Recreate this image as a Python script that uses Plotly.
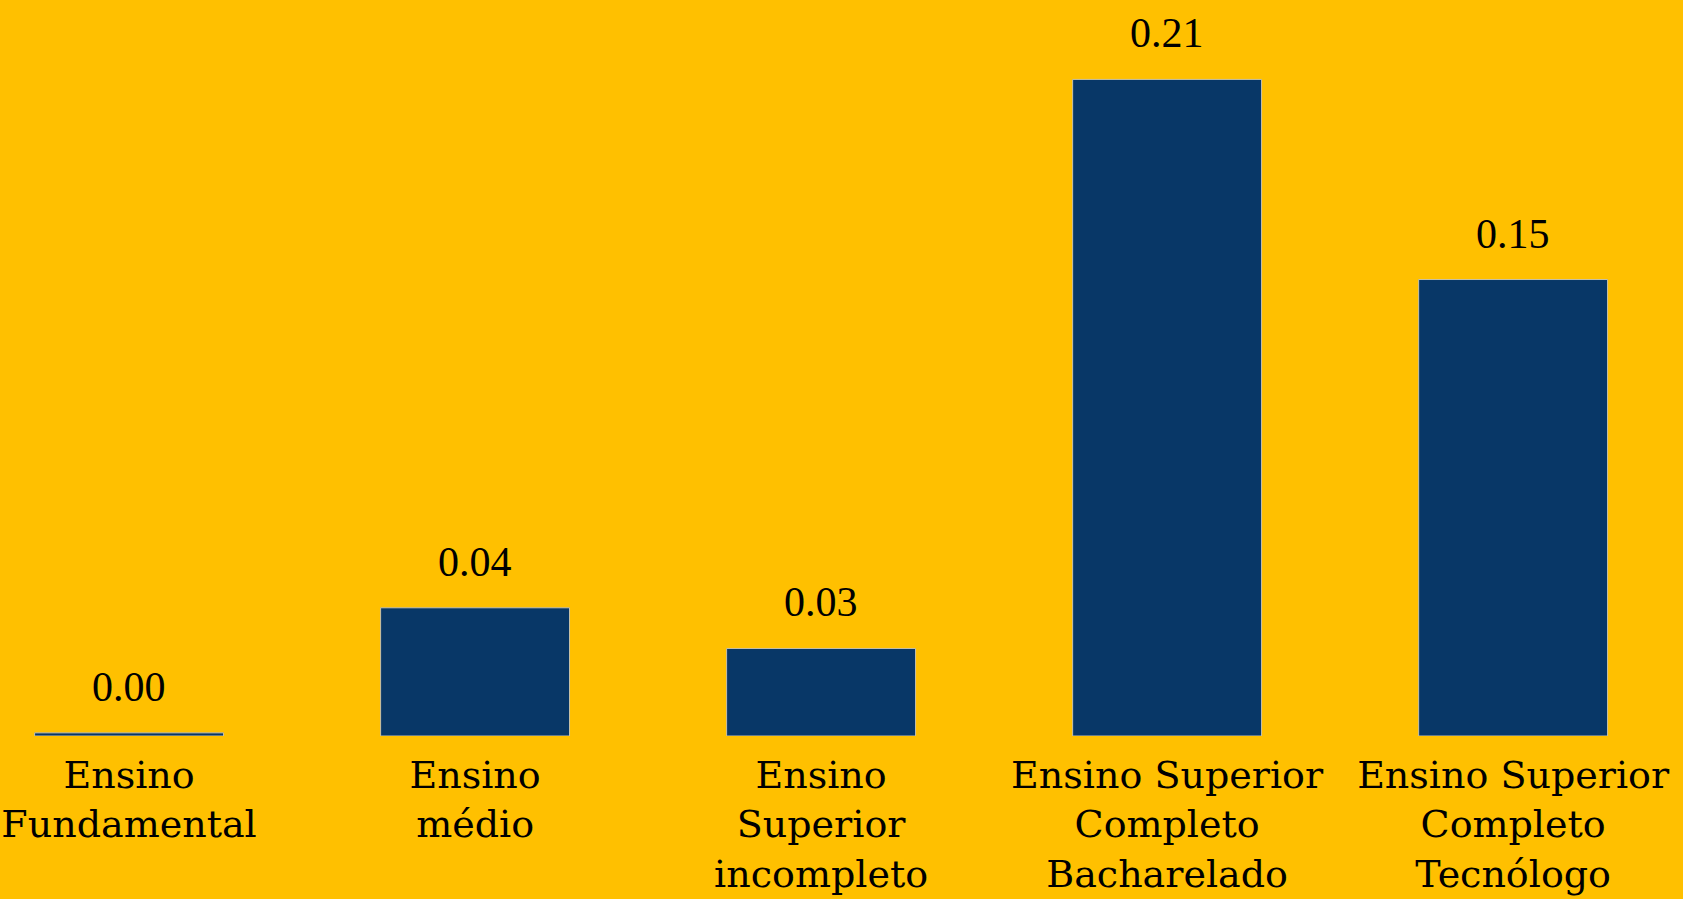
import plotly.graph_objects as go

# dados
categorias = [
    "Ensino<br>Fundamental",
    "Ensino<br>médio",
    "Ensino<br>Superior<br>incompleto",
    "Ensino Superior<br>Completo<br>Bacharelado",
    "Ensino Superior<br>Completo<br>Tecnólogo",
]
valores = [0.001, 0.041, 0.028, 0.210, 0.146]

FUNDO = "#FFC000"
AZUL = "#083767"

fig = go.Figure(
    go.Bar(
        x=categorias,
        y=valores,
        marker=dict(color=AZUL, line=dict(color="#c9c2a8", width=1)),
        hoverinfo="skip",
    )
)

# rótulos de valor acima das barras
for cat, val in zip(categorias, valores):
    fig.add_annotation(
        x=cat,
        y=val,
        text=f"{val:.2f}",
        showarrow=False,
        yanchor="bottom",
        yshift=21,
        font=dict(family="Liberation Serif", size=42, color="black"),
    )

fig.update_layout(
    width=1683,
    height=899,
    paper_bgcolor=FUNDO,
    plot_bgcolor=FUNDO,
    bargap=0.454,
    showlegend=False,
    margin=dict(l=0, r=0, t=0, b=163),
    xaxis=dict(
        range=[-0.373, 4.491],
        showgrid=False,
        zeroline=False,
        showline=False,
        ticks="",
        ticklabelstandoff=13,
        tickfont=dict(family="DejaVu Serif", size=38, color="black"),
    ),
    yaxis=dict(
        range=[0, 0.2354],
        visible=False,
        showgrid=False,
        zeroline=False,
    ),
)

# tira a margem branca da página e a barra de ferramentas
fig.write_html(
    "out.html",
    config={"displayModeBar": False},
    post_script=f"document.body.style.margin='0';document.body.style.background='{FUNDO}';",
)
